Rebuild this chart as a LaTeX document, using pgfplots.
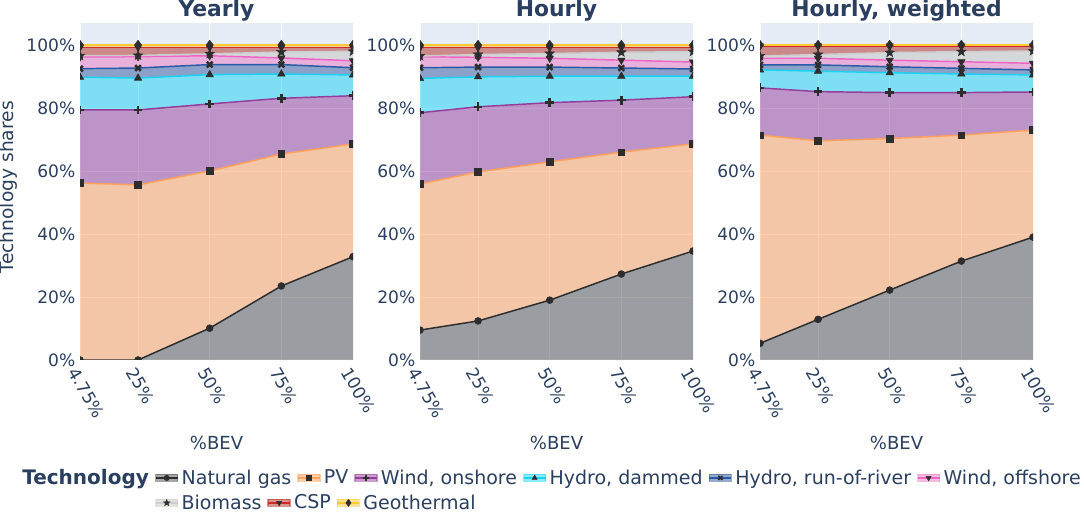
\documentclass[border=0pt]{standalone}
\usepackage{fontspec}
\setmainfont{DejaVu Sans}
\usepackage{pgfplots}
\usepackage{pgfplotstable}
\pgfplotsset{compat=1.18}
\usepgfplotslibrary{fillbetween}
\usetikzlibrary{plotmarks}

\definecolor{bgc}{HTML}{E5ECF6}
\definecolor{txt}{HTML}{2A3F5F}
\definecolor{mk}{RGB}{45,45,45}
\definecolor{ngl}{RGB}{45,45,45}
\definecolor{ngf}{RGB}{80,80,80}
\definecolor{pvl}{HTML}{FFA15A}
\definecolor{pvf}{HTML}{FFA15A}
\definecolor{wonl}{RGB}{150,60,155}
\definecolor{wonf}{RGB}{150,62,154}
\definecolor{hdl}{HTML}{19D3F3}
\definecolor{hdf}{HTML}{19D3F3}
\definecolor{hrl}{RGB}{40,90,165}
\definecolor{hrf}{RGB}{50,88,158}
\definecolor{wofl}{RGB}{240,100,200}
\definecolor{woff}{RGB}{235,120,195}
\definecolor{biol}{RGB}{205,205,205}
\definecolor{biof}{RGB}{199,198,192}
\definecolor{cspl}{RGB}{210,40,40}
\definecolor{cspf}{RGB}{180,40,30}
\definecolor{geol}{RGB}{254,200,50}
\definecolor{geof}{RGB}{254,200,50}

\pgfdeclareplotmark{fstar}{%
  \pgfpathmoveto{\pgfpointpolar{90}{\pgfplotmarksize}}%
  \pgfpathlineto{\pgfpointpolar{126}{0.42\pgfplotmarksize}}%
  \pgfpathlineto{\pgfpointpolar{162}{\pgfplotmarksize}}%
  \pgfpathlineto{\pgfpointpolar{198}{0.42\pgfplotmarksize}}%
  \pgfpathlineto{\pgfpointpolar{234}{\pgfplotmarksize}}%
  \pgfpathlineto{\pgfpointpolar{270}{0.42\pgfplotmarksize}}%
  \pgfpathlineto{\pgfpointpolar{306}{\pgfplotmarksize}}%
  \pgfpathlineto{\pgfpointpolar{342}{0.42\pgfplotmarksize}}%
  \pgfpathlineto{\pgfpointpolar{18}{\pgfplotmarksize}}%
  \pgfpathlineto{\pgfpointpolar{54}{0.42\pgfplotmarksize}}%
  \pgfpathclose\pgfusepathqfillstroke}

\pgfplotstableread{
x z ng pv won hd hr woff bio csp geo
4.75 0 0 56.2 79.4 89.8 92.5 96.2 96.6 99.3 100
25 0 0 55.6 79.4 89.5 92.7 96.3 96.7 99.3 100
50 0 10.1 60.0 81.3 90.6 93.8 96.6 97.2 99.3 100
75 0 23.5 65.4 83.1 90.8 93.8 95.9 97.8 99.3 100
100 0 32.8 68.6 83.9 90.5 92.8 95.0 98.0 99.3 100
}\tabA
\pgfplotstableread{
x z ng pv won hd hr woff bio csp geo
4.75 0 9.5 55.9 78.5 89.4 92.8 96.3 96.5 99.2 100
25 0 12.4 59.7 80.4 89.9 93.0 96.1 97.0 99.2 100
50 0 19.0 62.9 81.7 90.1 93.0 95.8 97.3 99.2 100
75 0 27.3 66.0 82.5 90.1 92.7 95.2 97.7 99.2 100
100 0 34.6 68.6 83.6 90.1 92.4 94.6 97.9 99.2 100
}\tabB
\pgfplotstableread{
x z ng pv won hd hr woff bio csp geo
4.75 0 5.3 71.4 86.4 92.1 93.7 95.8 96.5 99.7 100
25 0 12.9 69.6 85.2 91.7 93.7 95.8 97.0 99.7 100
50 0 22.2 70.3 84.9 91.2 93.1 95.2 97.6 99.7 100
75 0 31.4 71.4 84.9 90.8 92.6 94.7 97.9 99.7 100
100 0 39.0 73.0 85.1 90.5 92.1 94.2 98.1 99.7 100
}\tabC

\pgfplotsset{
  ngS/.style={ngl, line width=1.1pt, mark=*, mark size=2.6pt, mark options={fill=mk, draw=mk, line width=0.4pt}},
  pvS/.style={pvl, line width=1.1pt, mark=square*, mark size=2.5pt, mark options={fill=mk, draw=mk, line width=0.4pt}},
  wonS/.style={wonl, line width=1.1pt, mark=+, mark size=3.3pt, mark options={draw=mk, line width=1.9pt}},
  hdS/.style={hdl, line width=1.1pt, mark=triangle*, mark size=3.2pt, mark options={fill=mk, draw=mk, line width=0.4pt}},
  hrS/.style={hrl, line width=1.1pt, mark=x, mark size=3pt, mark options={draw=mk, line width=1.9pt}},
  woffS/.style={wofl, line width=1.1pt, mark=triangle*, mark size=3.2pt, mark options={fill=mk, draw=mk, line width=0.4pt, rotate=180}},
  bioS/.style={biol, line width=1.1pt, mark=fstar, mark size=3.8pt, mark options={fill=mk, draw=mk, line width=0.3pt}},
  cspS/.style={cspl, line width=1.1pt, mark=triangle*, mark size=3.2pt, mark options={fill=mk, draw=mk, line width=0.4pt, rotate=180}},
  geoS/.style={geol, line width=1.1pt, mark=diamond*, mark size=3.6pt, mark options={fill=mk, draw=mk, line width=0.4pt}},
  leg/.style={legend image code/.code={%
    \fill[#1, opacity=0.5] (0pt,-2.6pt) rectangle (16.5pt,2.6pt);
    \draw[mark repeat=2,mark phase=2,##1] plot coordinates {(0pt,0pt) (8.25pt,0pt) (16.5pt,0pt)};}},
  every axis title shift=0pt,
  panel/.style={
    width=204.75pt, height=252.75pt, scale only axis, anchor=south west,
    xmin=4.75, xmax=100, ymin=0, ymax=107,
    axis background/.style={fill=bgc},
    axis line style={draw=none},
    major tick length=0pt,
    grid=major, grid style={white, line width=0.75pt},
    xtick={4.75,25,50,75,100},
    xticklabels={4.75\%,25\%,50\%,75\%,100\%},
    ytick={0,20,40,60,80,100},
    yticklabels={0\%,20\%,40\%,60\%,80\%,100\%},
    /pgf/number format/assume math mode=true,
    ticklabel style={font=\fontsize{12.8}{15}\selectfont, text=txt},
    xticklabel style={rotate=-60, anchor=west, yshift=-8pt, xshift=0pt},
    clip marker paths=true,
    title style={font=\fontsize{16.4}{19}\selectfont\bfseries, text=txt, at={(axis description cs:0.5,1.019)}, anchor=base},
    xlabel={\%BEV},
    xlabel style={font=\fontsize{13.5}{16}\selectfont, text=txt, at={(axis description cs:0.5,-0.246)}, anchor=center},
    legend style={draw=none, fill=none, inner sep=0pt, outer sep=0pt,
      font=\fontsize{14.25}{16}\selectfont, text=txt, anchor=west,
      nodes={inner sep=0pt},
      /tikz/every odd column/.append style={column sep=2.4pt},
      /tikz/every even column/.append style={column sep=4.4pt}},
    legend cell align=left,
  },
}

\newcommand{\stackplots}[1]{%
  \addplot[draw=none, name path=pz, forget plot] table[x=x,y=z]{#1};
  \addplot[draw=none, name path=png, forget plot] table[x=x,y=ng]{#1};
  \addplot[draw=none, name path=ppv, forget plot] table[x=x,y=pv]{#1};
  \addplot[draw=none, name path=pwon, forget plot] table[x=x,y=won]{#1};
  \addplot[draw=none, name path=phd, forget plot] table[x=x,y=hd]{#1};
  \addplot[draw=none, name path=phr, forget plot] table[x=x,y=hr]{#1};
  \addplot[draw=none, name path=pwoff, forget plot] table[x=x,y=woff]{#1};
  \addplot[draw=none, name path=pbio, forget plot] table[x=x,y=bio]{#1};
  \addplot[draw=none, name path=pcsp, forget plot] table[x=x,y=csp]{#1};
  \addplot[draw=none, name path=pgeo, forget plot] table[x=x,y=geo]{#1};
  \addplot[fill=ngf, fill opacity=0.5, forget plot] fill between[of=png and pz];
  \addplot[fill=pvf, fill opacity=0.5, forget plot] fill between[of=ppv and png];
  \addplot[fill=wonf, fill opacity=0.5, forget plot] fill between[of=pwon and ppv];
  \addplot[fill=hdf, fill opacity=0.5, forget plot] fill between[of=phd and pwon];
  \addplot[fill=hrf, fill opacity=0.5, forget plot] fill between[of=phr and phd];
  \addplot[fill=woff, fill opacity=0.5, forget plot] fill between[of=pwoff and phr];
  \addplot[fill=biof, fill opacity=0.5, forget plot] fill between[of=pbio and pwoff];
  \addplot[fill=cspf, fill opacity=0.5, forget plot] fill between[of=pcsp and pbio];
  \addplot[fill=geof, fill opacity=0.5, forget plot] fill between[of=pgeo and pcsp];
  \addplot[ngS, forget plot] table[x=x,y=ng]{#1};
  \addplot[pvS, forget plot] table[x=x,y=pv]{#1};
  \addplot[wonS, forget plot] table[x=x,y=won]{#1};
  \addplot[hdS, forget plot] table[x=x,y=hd]{#1};
  \addplot[hrS, forget plot] table[x=x,y=hr]{#1};
  \addplot[woffS, forget plot] table[x=x,y=woff]{#1};
  \addplot[bioS, forget plot] table[x=x,y=bio]{#1};
  \addplot[cspS, forget plot] table[x=x,y=csp]{#1};
  \addplot[geoS, forget plot] table[x=x,y=geo]{#1};
}

\begin{document}
\begin{tikzpicture}

\begin{axis}[panel, at={(60pt,114.75pt)}, title={Yearly},
  ylabel={Technology shares},
  ylabel style={font=\fontsize{14}{16}\selectfont, text=txt, at={(axis description cs:-0.262,0.513)}, anchor=center},
  legend columns=6,
  legend style={at={(axis description cs:0.2747,-0.35)}}]
\stackplots{\tabA}
\addlegendimage{leg=ngf, ngS, mark size=2pt}
\addlegendentry{Natural gas}
\addlegendimage{leg=pvf, pvS, mark size=1.9pt}
\addlegendentry{PV}
\addlegendimage{leg=wonf, wonS, mark size=2.4pt, mark options={draw=mk, line width=1.2pt}}
\addlegendentry{Wind, onshore}
\addlegendimage{leg=hdf, hdS, mark size=2.2pt}
\addlegendentry{Hydro, dammed}
\addlegendimage{leg=hrf, hrS, mark size=2.2pt, mark options={draw=mk, line width=1.2pt}}
\addlegendentry{Hydro, run-of-river}
\addlegendimage{leg=woff, woffS, mark size=2.2pt}
\addlegendentry{Wind, offshore}
\end{axis}

\begin{axis}[panel, at={(315pt,114.75pt)}, title={Hourly},
  legend columns=3,
  legend style={at={(axis description cs:-0.9707,-0.424)}}]
\stackplots{\tabB}
\addlegendimage{leg=biof, bioS, mark size=2.6pt}
\addlegendentry{Biomass}
\addlegendimage{leg=cspf, cspS, mark size=2.2pt}
\addlegendentry{CSP}
\addlegendimage{leg=geof, geoS, mark size=2.6pt}
\addlegendentry{Geothermal}
\end{axis}

\begin{axis}[panel, at={(570pt,114.75pt)}, title={Hourly, weighted}]
\stackplots{\tabC}
\end{axis}

\node[anchor=base west, inner sep=0pt, font=\fontsize{15}{18}\selectfont\bfseries, text=txt] at (16.5pt,21pt) {Technology};
\pgfresetboundingbox
\path[use as bounding box] (0,0) rectangle (813pt,384.75pt);
\end{tikzpicture}
\end{document}
